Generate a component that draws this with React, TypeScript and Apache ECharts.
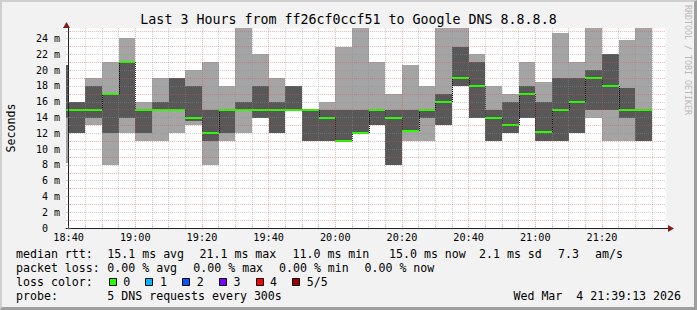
import React, { useEffect, useRef } from 'react';
import * as echarts from 'echarts';

const FONT = '"DejaVu Sans Mono", "Liberation Mono", monospace';

const TITLE = 'Last 3 Hours from ff26cf0ccf51 to Google DNS 8.8.8.8';
const WATERMARK = 'RRDTOOL / TOBI OETIKER';
const Y_NAME = 'Seconds';

const ORIGIN = '18:40';
const START_TIME = '18:39:13';
const END_TIME = '21:39:13';
const STEP_SECONDS = 300;

// start time of each 5-minute smoke bar
const BAR_TIMES = [
  '18:35', '18:40', '18:45', '18:50', '18:55', '19:00', '19:05', '19:10', '19:15',
  '19:20', '19:25', '19:30', '19:35', '19:40', '19:45', '19:50', '19:55', '20:00',
  '20:05', '20:10', '20:15', '20:20', '20:25', '20:30', '20:35', '20:40', '20:45',
  '20:50', '20:55', '21:00', '21:05', '21:10', '21:15', '21:20', '21:25', '21:30',
];
// 5 sorted pings per bar (ms)
const PING_MIN = [
  8.2, 12, 13, 8, 12, 11, 11, 12, 13, 8, 11, 12, 14, 12, 15, 11, 11, 11,
  12, 13, 8, 11, 11, 13, 18, 14, 11, 12, 14, 11, 11, 12, 14, 11, 11, 11,
];
const PING_LOW = [
  14, 12, 14, 12, 14, 12, 15, 15, 13.5, 11, 12, 15, 14, 12, 15, 11, 11, 11,
  12, 13, 8, 12.3, 14, 13, 18, 14, 11, 12, 14, 11, 11, 12, 15, 15, 13.9, 11,
];
const MEDIAN = [
  15, 15, 15, 17, 21.1, 15, 15, 15, 14, 12, 15, 15, 15, 15, 15, 15, 14, 11,
  12, 15, 14, 12.3, 15, 16, 19, 18, 14, 13, 17, 12.2, 15, 16, 19, 18, 15, 15,
];
const PING_HIGH = [
  20.7, 16, 18, 17, 21.2, 15, 16, 19, 18, 15, 15, 16, 18, 16, 18, 15, 15, 15,
  15, 15, 15, 15, 15, 17, 23, 21.1, 15, 16, 18, 16, 19, 19, 20, 22, 17.8, 15,
];
const PING_MAX = [
  20.7, 16, 19, 21, 24.1, 16, 19, 19, 20, 21, 18, 26, 22, 19, 18, 15, 16, 22.9,
  26, 21.1, 17, 20.6, 18, 26, 26, 22.1, 18, 17, 21.1, 18.5, 24.7, 21, 26, 22, 23.8, 26,
];

const X_LABELS = ['18:40', '19:00', '19:20', '19:40', '20:00', '20:20', '20:40', '21:00', '21:20'];
const X_TICKS = [
  '18:40', '18:45', '18:50', '18:55', '19:00', '19:05', '19:10', '19:15', '19:20',
  '19:25', '19:30', '19:35', '19:40', '19:45', '19:50', '19:55', '20:00', '20:05',
  '20:10', '20:15', '20:20', '20:25', '20:30', '20:35', '20:40', '20:45', '20:50',
  '20:55', '21:00', '21:05', '21:10', '21:15', '21:20', '21:25', '21:30', '21:35',
];
const Y_LABELS = [0, 2, 4, 6, 8, 10, 12, 14, 16, 18, 20, 22, 24];
const Y_TICKS = [0, 1, 2, 3, 4, 5, 6, 7, 8, 9, 10, 11, 12, 13, 14, 15, 16, 17, 18, 19, 20, 21, 22, 23, 24, 25];
const Y_MAX = 25.35;

const MEDIAN_HEAD = 'median rtt:';
const MEDIAN_STATS = ['15.1 ms avg', '21.1 ms max', '11.0 ms min', '15.0 ms now', '2.1 ms sd', '7.3', 'am/s'];
const LOSS_HEAD = 'packet loss:';
const LOSS_STATS = ['0.00 % avg', '0.00 % max', '0.00 % min', '0.00 % now'];
const COLOR_HEAD = 'loss color:';
const LOSS_LABELS = ['0', '1', '2', '3', '4', '5/5'];
const LOSS_COLORS = ['#26ff00', '#00b8ff', '#0059ff', '#7e00ff', '#ff0000', '#a00000'];
const PROBE_HEAD = 'probe:';
const PROBE_TEXT = '5 DNS requests every 300s';
const TIMESTAMP = 'Wed Mar  4 21:39:13 2026';

// layout (pixels)
const W = 697;
const H = 310;
const GRID = { left: 66, top: 28, width: 600, height: 200 };
const MEDIAN_X = [107.3, 199.5, 292.5, 389, 479, 558, 595];
const LOSS_X = [107.3, 193.3, 279, 364.5];
const LEGEND_X0 = 16;
const LEGEND_X1 = 107.3;
const ROW_Y = [253.8, 267.8, 281.8, 295.8];
const SWATCH_X0 = 108.7;
const SWATCH_STEP = 36.7;

const SMOKE_LIGHT = '#a4a4a4';
const SMOKE_DARK = '#585858';
const GRID_MINOR = 'rgba(140,140,140,0.42)';
const GRID_MAJOR = 'rgba(222,79,79,0.42)';
const ARROW = '#801f1f';
const AXIS = '#1f1f1f';

function toSec(s: string): number {
  const p = s.split(':').map(Number);
  const o = ORIGIN.split(':').map(Number);
  return (p[0] * 3600 + p[1] * 60 + (p[2] || 0)) - (o[0] * 3600 + o[1] * 60);
}
function fmtHM(v: number): string {
  const o = ORIGIN.split(':').map(Number);
  const t = Math.round(o[0] * 3600 + o[1] * 60 + v);
  const h = Math.floor(t / 3600) % 24;
  const m = Math.floor((t % 3600) / 60);
  return String(h).padStart(2, '0') + ':' + String(m).padStart(2, '0');
}

export default function App() {
  const ref = useRef<HTMLDivElement>(null);
  useEffect(() => {
    const el = ref.current!;
    const chart = echarts.init(el, undefined, { renderer: 'svg', width: W, height: H });

    const data = BAR_TIMES.map((t, i) => [
      toSec(t), PING_MIN[i], PING_LOW[i], MEDIAN[i], PING_HIGH[i], PING_MAX[i],
      i > 0 ? MEDIAN[i - 1] : NaN,
    ]);

    const xMin = toSec(START_TIME);
    const xMax = toSec(END_TIME);

    const renderItem = (params: any, api: any) => {
      const cs = params.coordSys;
      const t0 = api.value(0);
      const t1 = t0 + STEP_SECONDS;
      const clampV = (v: number) => Math.max(0, Math.min(v, Y_MAX));
      let x0 = Math.round(api.coord([t0, 0])[0]);
      let x1 = Math.round(api.coord([t1, 0])[0]);
      x0 = Math.max(x0, Math.round(cs.x));
      x1 = Math.min(x1, Math.round(cs.x + cs.width));
      const py = (v: number) => Math.round(api.coord([t0, clampV(v)])[1]);
      const p1 = api.value(1), p2 = api.value(2), p3 = api.value(3), p4 = api.value(4), p5 = api.value(5);
      const prev = api.value(6);
      const children: any[] = [
        { type: 'rect', shape: { x: x0, y: py(p5), width: x1 - x0, height: py(p1) - py(p5) }, style: { fill: SMOKE_LIGHT } },
        { type: 'rect', shape: { x: x0, y: py(p4), width: x1 - x0, height: py(p2) - py(p4) }, style: { fill: SMOKE_DARK } },
      ];
      if (!isNaN(prev) && prev !== p3) {
        children.push({
          type: 'line',
          shape: { x1: x0 + 0.5, y1: py(prev), x2: x0 + 0.5, y2: py(p3) },
          style: { stroke: '#000000', lineWidth: 1, lineDash: [1, 1] },
        });
      }
      children.push({
        type: 'rect',
        shape: { x: x0, y: py(p3) - 1, width: x1 - x0, height: 2 },
        style: { fill: LOSS_COLORS[0] },
      });
      return { type: 'group', children };
    };

    const txt = (text: string, x: number, y: number, size: number, extra: any = {}) => ({
      type: 'text',
      x, y,
      silent: true,
      z: 100,
      ...extra,
      style: {
        text, fill: extra.fill || '#000000', fontSize: size, fontFamily: FONT,
        align: extra.align || 'left', verticalAlign: 'middle',
      },
    });

    const graphics: any[] = [];
    graphics.push(txt(TITLE, W / 2, 19.4, 13.3, { align: 'center' }));
    graphics.push(txt(WATERMARK, 688, 60, 8.3, { align: 'center', rotation: -Math.PI / 2, fill: '#b9b9b9' }));
    graphics.push(txt(Y_NAME, 10.5, GRID.top + GRID.height / 2, 11.6, { align: 'center', rotation: Math.PI / 2 }));

    graphics.push(txt(MEDIAN_HEAD, LEGEND_X0, ROW_Y[0], 11.6));
    MEDIAN_STATS.forEach((s, i) => graphics.push(txt(s, MEDIAN_X[i], ROW_Y[0], 11.6)));
    graphics.push(txt(LOSS_HEAD, LEGEND_X0, ROW_Y[1], 11.6));
    LOSS_STATS.forEach((s, i) => graphics.push(txt(s, LOSS_X[i], ROW_Y[1], 11.6)));
    graphics.push(txt(COLOR_HEAD, LEGEND_X0, ROW_Y[2], 11.6));
    LOSS_LABELS.forEach((s, i) => {
      const bx = SWATCH_X0 + i * SWATCH_STEP;
      graphics.push({
        type: 'rect', silent: true, z: 100,
        shape: { x: Math.round(bx) + 0.5, y: Math.round(ROW_Y[2] - 4) + 0.5, width: 7, height: 7 },
        style: { fill: LOSS_COLORS[i], stroke: '#000000', lineWidth: 1 },
      });
      graphics.push(txt(s, bx + 14.6, ROW_Y[2], 11.6));
    });
    graphics.push(txt(PROBE_HEAD, LEGEND_X0, ROW_Y[3], 11.6));
    graphics.push(txt(PROBE_TEXT, LEGEND_X1, ROW_Y[3], 11.6));
    graphics.push(txt(TIMESTAMP, 681, ROW_Y[3], 11.6, { align: 'right' }));

    // axis arrows
    const ax = GRID.left + GRID.width;
    const ay = GRID.top + GRID.height + 0.5;
    graphics.push({
      type: 'polygon', silent: true, z: 100,
      shape: { points: [[ax + 2, ay - 3.5], [ax + 2, ay + 3.5], [ax + 8, ay]] },
      style: { fill: ARROW },
    });
    const yx = GRID.left + 0.5;
    graphics.push({
      type: 'polygon', silent: true, z: 100,
      shape: { points: [[yx - 3.5, GRID.top], [yx + 3.5, GRID.top], [yx, GRID.top - 6]] },
      style: { fill: ARROW },
    });
    graphics.push({
      type: 'line', silent: true, z: 100,
      shape: { x1: ax, y1: ay, x2: ax + 2, y2: ay },
      style: { stroke: AXIS, lineWidth: 1 },
    });

    const option: any = {
      animation: false,
      backgroundColor: 'transparent',
      grid: {
        left: GRID.left, top: GRID.top, width: GRID.width, height: GRID.height,
        show: true, backgroundColor: '#ffffff', borderWidth: 0,
      },
      xAxis: [
        {
          type: 'value', min: xMin, max: xMax, z: 10,
          axisLine: { show: true, onZero: false, lineStyle: { color: AXIS, width: 1 } },
          axisTick: { show: true, length: 2, customValues: X_TICKS.map(toSec), lineStyle: { color: GRID_MINOR } },
          axisLabel: {
            show: true, customValues: X_LABELS.map(toSec), formatter: (v: number) => fmtHM(v),
            color: '#000000', fontFamily: FONT, fontSize: 10.2, margin: 4,
          },
          splitLine: {
            show: true, showMinLine: true, showMaxLine: true,
            lineStyle: { color: [GRID_MAJOR, GRID_MINOR, GRID_MINOR, GRID_MINOR], width: 1, type: [1, 1] },
          },
        },
        {
          type: 'value', min: xMin, max: xMax, position: 'top', z: 10,
          axisLine: { show: false },
          axisTick: { show: true, length: 2, customValues: X_TICKS.map(toSec), lineStyle: { color: GRID_MINOR } },
          axisLabel: { show: false },
          splitLine: { show: false },
        },
      ],
      yAxis: [
        {
          type: 'value', min: 0, max: Y_MAX, z: 10,
          axisLine: { show: true, lineStyle: { color: AXIS, width: 1 } },
          axisTick: { show: true, length: 2, customValues: Y_TICKS, lineStyle: { color: GRID_MINOR } },
          axisLabel: {
            show: true, customValues: Y_LABELS,
            formatter: (v: number) => (v === 0 ? '{z|0}' : v + ' m'),
            rich: { z: { padding: [0, 12, 0, 0], fontFamily: FONT, fontSize: 10, color: '#000000' } },
            color: '#000000', fontFamily: FONT, fontSize: 10, margin: 6,
          },
          splitLine: {
            show: true, showMinLine: false,
            lineStyle: { color: [GRID_MAJOR, GRID_MINOR], width: 1, type: [1, 1] },
          },
        },
        {
          type: 'value', min: 0, max: Y_MAX, position: 'right', z: 10,
          axisLine: { show: false },
          axisTick: { show: true, length: 2, customValues: Y_TICKS, lineStyle: { color: GRID_MINOR } },
          axisLabel: { show: false },
          splitLine: { show: false },
        },
      ],
      series: [
        {
          type: 'custom',
          renderItem,
          data,
          xAxisIndex: 0,
          yAxisIndex: 0,
          encode: { x: 0, y: [1, 2, 3, 4, 5] },
          clip: true,
          silent: true,
          z: 2,
        },
      ],
      graphic: graphics,
    };

    chart.setOption(option);
    return () => chart.dispose();
  }, []);

  return (
    <div style={{ position: 'fixed', left: 0, top: 0, width: W, height: H, background: '#f2f2f2' }}>
      <div ref={ref} style={{ position: 'absolute', left: 0, top: 0, width: W, height: H }} />
      <div
        style={{
          position: 'absolute', left: 0, top: 0, width: W, height: H, boxSizing: 'border-box',
          borderStyle: 'solid', borderWidth: '2px 3px 3px 2px',
          borderColor: '#cfcfcf #9e9e9e #9e9e9e #cfcfcf', pointerEvents: 'none',
        }}
      />
    </div>
  );
}
